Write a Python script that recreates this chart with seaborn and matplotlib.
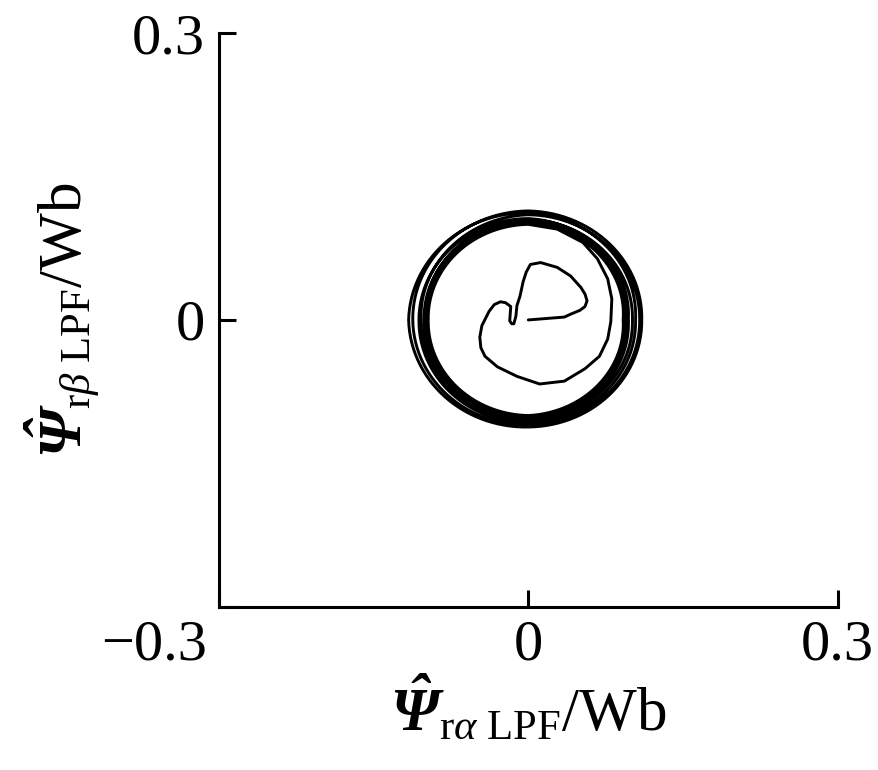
import numpy as np
import pandas as pd
import matplotlib
matplotlib.use("Agg")
import matplotlib.pyplot as plt
import matplotlib.transforms as mtransforms
import seaborn as sns

# inner start-up trajectory (Wb)
inner_x = [0.000, 0.035, 0.041, 0.050, 0.055, 0.057, 0.055, 0.051, 0.041, 0.028,
           0.012, 0.002, -0.002, -0.005, -0.008, -0.011, -0.012, -0.014, -0.016,
           -0.018, -0.017, -0.022, -0.027, -0.033, -0.038, -0.045, -0.047, -0.046,
           -0.042, -0.030, -0.011, 0.011, 0.035, 0.055, 0.069, 0.077, 0.080, 0.081,
           0.077, 0.067, 0.053, 0.028, 0.000]
inner_y = [0.000, 0.003, 0.006, 0.010, 0.014, 0.020, 0.027, 0.034, 0.046, 0.055,
           0.060, 0.058, 0.050, 0.040, 0.025, 0.015, 0.004, -0.004, -0.004,
           -0.001, 0.014, 0.018, 0.019, 0.016, 0.009, -0.006, -0.018, -0.029,
           -0.038, -0.049, -0.059, -0.067, -0.064, -0.051, -0.038, -0.020, -0.002,
           0.022, 0.043, 0.064, 0.081, 0.095, 0.100]

# steady-state turns: radius at top, left, bottom, right of each revolution
turn_top = [0.100, 0.102, 0.103, 0.104, 0.106, 0.112, 0.114, 0.110, 0.105]
turn_left = [0.097, 0.099, 0.100, 0.101, 0.106, 0.116, 0.112, 0.104, 0.100]
turn_bottom = [0.100, 0.101, 0.102, 0.104, 0.108, 0.112, 0.110, 0.105, 0.102]
turn_right = [0.092, 0.094, 0.095, 0.097, 0.104, 0.110, 0.108, 0.101, 0.096]

# build the loop path from the read radii (counter-clockwise from the top)
r_seq = []
for t, l, b, r in zip(turn_top, turn_left, turn_bottom, turn_right):
    r_seq += [t, l, b, r]
r_seq.append(turn_top[-1])
ang_knots = np.pi / 2 + np.arange(len(r_seq)) * np.pi / 2
ang = np.linspace(ang_knots[0], ang_knots[-1], 60 * (len(r_seq) - 1) + 1)
rad = np.interp(ang, ang_knots, r_seq)
loop_x = rad * np.cos(ang)
loop_y = rad * np.sin(ang)

df = pd.DataFrame({
    "x": np.concatenate([inner_x, loop_x]),
    "y": np.concatenate([inner_y, loop_y]),
})

sns.set_style("ticks")
plt.rcParams["font.family"] = ["Liberation Serif", "DejaVu Serif"]
# rm is bold italic so the capital Psi slants; upright parts go through \mathsf
plt.rcParams["mathtext.fontset"] = "custom"
plt.rcParams["mathtext.rm"] = "Liberation Serif:italic:bold"
plt.rcParams["mathtext.it"] = "Liberation Serif:italic"
plt.rcParams["mathtext.sf"] = "Liberation Serif"
plt.rcParams["mathtext.bf"] = "Liberation Serif:bold"
for k in ["text.color", "axes.labelcolor", "xtick.color", "ytick.color"]:
    plt.rcParams[k] = "black"

fig = plt.figure(figsize=(8.79, 7.70), dpi=100)
ax = fig.add_axes([0.249, 0.212, 0.704, 0.745])

sns.lineplot(data=df, x="x", y="y", sort=False, estimator=None, color="black",
             linewidth=2.1, ax=ax)

ax.set_xlim(-0.3, 0.3)
ax.set_ylim(-0.3, 0.3)
ax.set_xticks([-0.3, 0, 0.3])
ax.set_xticklabels(["\u22120.3", "0", "0.3"])
ax.set_yticks([-0.3, 0, 0.3])
ax.set_yticklabels(["", "0", "0.3"])
ax.tick_params(direction="in", length=12, width=2.2, labelsize=42)
ax.tick_params(axis="x", pad=9)
ax.tick_params(axis="y", pad=10)
for s in ["top", "right"]:
    ax.spines[s].set_visible(False)
for s in ["left", "bottom"]:
    ax.spines[s].set_linewidth(2.2)
    ax.spines[s].set_color("black")

# the -0.3 label sits left of its tick
lbl = ax.get_xticklabels()[0]
lbl.set_horizontalalignment("right")
lbl.set_transform(lbl.get_transform() +
                  mtransforms.ScaledTranslation(-0.12, 0, fig.dpi_scale_trans))

ax.set_xlabel(r"$\hat{\Psi}_{\mathsf{r}\alpha\ \mathsf{LPF}}\mathsf{/Wb}$",
              fontsize=44, labelpad=2)
ax.set_ylabel(r"$\hat{\Psi}_{\mathsf{r}\beta\ \mathsf{LPF}}\mathsf{/Wb}$",
              fontsize=44, labelpad=22)

fig.savefig("out.png", dpi=100)
